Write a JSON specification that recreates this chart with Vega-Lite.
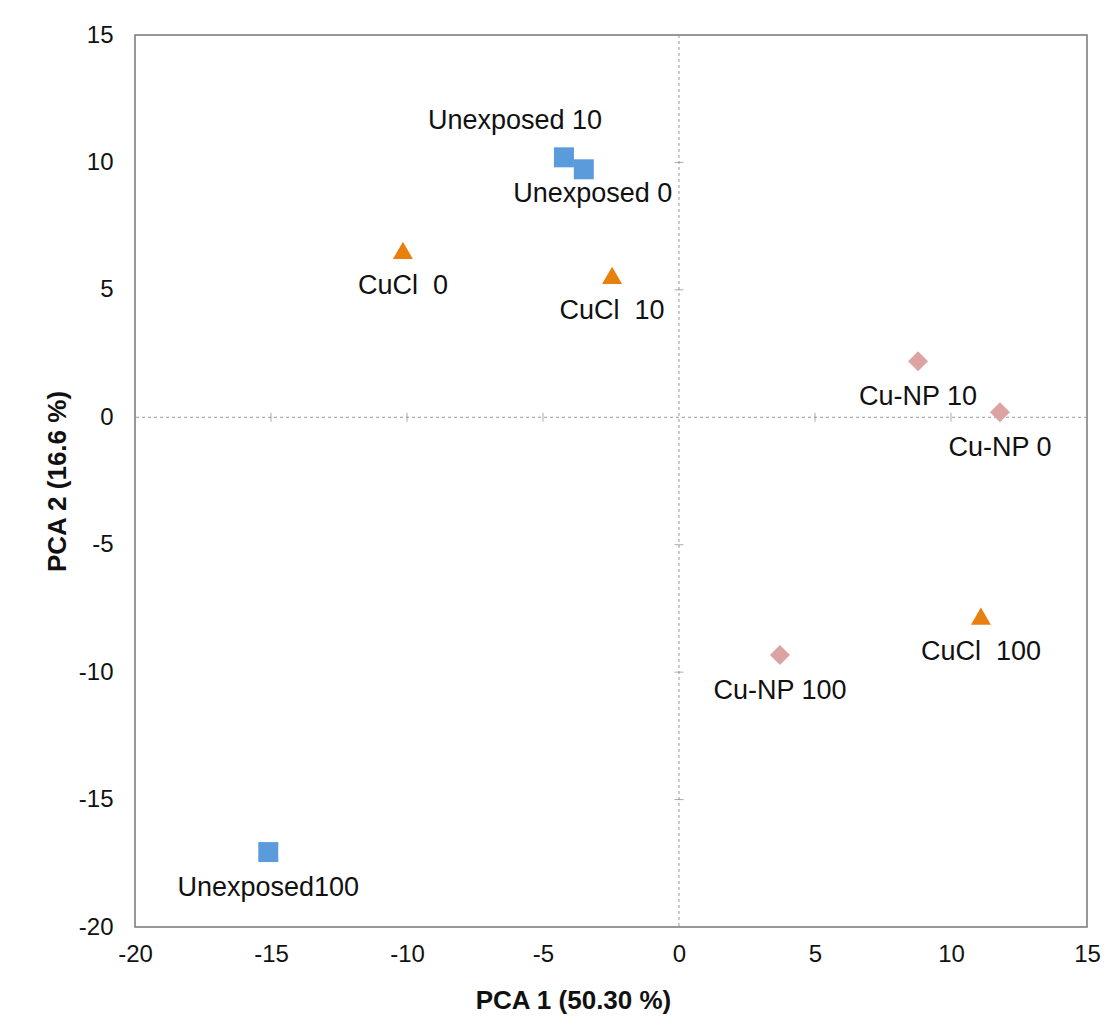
{
  "$schema": "https://vega.github.io/schema/vega-lite/v6.json",
  "width": 952,
  "height": 892,
  "autosize": "none",
  "padding": {"left": 135, "top": 35, "right": 23, "bottom": 104},
  "background": "white",
  "config": {
    "view": {"stroke": "#777777", "strokeWidth": 1.5},
    "font": "Liberation Sans"
  },
  "datasets": {
    "points": [
      {"name": "Unexposed 10", "group": "Unexposed", "x": -4.23, "y": 10.2},
      {"name": "Unexposed 0", "group": "Unexposed", "x": -3.5, "y": 9.73},
      {"name": "Unexposed100", "group": "Unexposed", "x": -15.1, "y": -17.06},
      {"name": "CuCl\u00a0 0", "group": "CuCl", "x": -10.15, "y": 6.55},
      {"name": "CuCl\u00a0 10", "group": "CuCl", "x": -2.46, "y": 5.57},
      {"name": "CuCl\u00a0 100", "group": "CuCl", "x": 11.1, "y": -7.8},
      {"name": "Cu-NP 10", "group": "Cu-NP", "x": 8.79, "y": 2.2},
      {"name": "Cu-NP 0", "group": "Cu-NP", "x": 11.8, "y": 0.2},
      {"name": "Cu-NP 100", "group": "Cu-NP", "x": 3.71, "y": -9.33}
    ],
    "xticks": [{"v": -15}, {"v": -10}, {"v": -5}, {"v": 5}, {"v": 10}],
    "yticks": [{"v": -15}, {"v": -10}, {"v": -5}, {"v": 5}, {"v": 10}],
    "zero": [{"v": 0}]
  },
  "layer": [
    {
      "data": {"name": "zero"},
      "mark": {"type": "rule", "color": "#9a9a9a", "strokeDash": [3, 3], "strokeWidth": 1},
      "encoding": {
        "x": {"field": "v", "type": "quantitative", "scale": {"domain": [-20, 15]}}
      }
    },
    {
      "data": {"name": "zero"},
      "mark": {"type": "rule", "color": "#9a9a9a", "strokeDash": [3, 3], "strokeWidth": 1},
      "encoding": {
        "y": {"field": "v", "type": "quantitative", "scale": {"domain": [-20, 15]}}
      }
    },
    {
      "data": {"name": "xticks"},
      "mark": {"type": "tick", "orient": "vertical", "color": "#8a8a8a", "size": 9, "thickness": 1},
      "encoding": {
        "x": {"field": "v", "type": "quantitative"},
        "y": {"datum": 0, "type": "quantitative"}
      }
    },
    {
      "data": {"name": "yticks"},
      "mark": {"type": "tick", "orient": "horizontal", "color": "#8a8a8a", "size": 9, "thickness": 1},
      "encoding": {
        "y": {"field": "v", "type": "quantitative"},
        "x": {"datum": 0, "type": "quantitative"}
      }
    },
    {
      "data": {"name": "points"},
      "mark": {"type": "point", "filled": true, "opacity": 1, "size": 400},
      "encoding": {
        "x": {
          "field": "x", "type": "quantitative",
          "scale": {"domain": [-20, 15], "nice": false, "zero": false},
          "axis": {
            "values": [-20, -15, -10, -5, 0, 5, 10, 15],
            "labelExpr": "datum.value + ''",
            "grid": false, "domain": false, "ticks": false,
            "labelFontSize": 24, "labelColor": "#111111", "labelPadding": 15,
            "labelFlush": false,
            "title": "PCA 1 (50.30 %)", "titleFontSize": 26, "titleFontWeight": "bold",
            "titleColor": "#111111", "titleX": 438, "titleY": 81, "titleBaseline": "alphabetic"
          }
        },
        "y": {
          "field": "y", "type": "quantitative",
          "scale": {"domain": [-20, 15], "nice": false, "zero": false},
          "axis": {
            "values": [-20, -15, -10, -5, 0, 5, 10, 15],
            "labelExpr": "datum.value + ''",
            "grid": false, "domain": false, "ticks": false,
            "labelFontSize": 24, "labelColor": "#111111", "labelPadding": 22,
            "labelFlush": false,
            "title": "PCA 2 (16.6 %)", "titleFontSize": 26, "titleFontWeight": "bold",
            "titleColor": "#111111", "titleX": -78, "titleY": 446, "titleBaseline": "middle"
          }
        },
        "color": {
          "field": "group", "type": "nominal", "legend": null,
          "scale": {"domain": ["Unexposed", "CuCl", "Cu-NP"], "range": ["#5b9bdc", "#e8800f", "#dca3a3"]}
        },
        "shape": {
          "field": "group", "type": "nominal", "legend": null,
          "scale": {"domain": ["Unexposed", "CuCl", "Cu-NP"], "range": ["square", "triangle-up", "diamond"]}
        }
      }
    },
    {
      "data": {"name": "points"},
      "transform": [{"filter": "datum.name !== 'Unexposed 10' && datum.name !== 'Unexposed 0'"}],
      "mark": {"type": "text", "fontSize": 27, "color": "#111111", "dy": 36, "baseline": "middle"},
      "encoding": {
        "x": {"field": "x", "type": "quantitative"},
        "y": {"field": "y", "type": "quantitative"},
        "text": {"field": "name"}
      }
    },
    {
      "data": {"name": "points"},
      "transform": [{"filter": "datum.name === 'Unexposed 10'"}],
      "mark": {"type": "text", "fontSize": 27, "color": "#111111", "dx": -49, "dy": -36, "baseline": "middle"},
      "encoding": {
        "x": {"field": "x", "type": "quantitative"},
        "y": {"field": "y", "type": "quantitative"},
        "text": {"field": "name"}
      }
    },
    {
      "data": {"name": "points"},
      "transform": [{"filter": "datum.name === 'Unexposed 0'"}],
      "mark": {"type": "text", "fontSize": 27, "color": "#111111", "dx": 9, "dy": 25, "baseline": "middle"},
      "encoding": {
        "x": {"field": "x", "type": "quantitative"},
        "y": {"field": "y", "type": "quantitative"},
        "text": {"field": "name"}
      }
    }
  ]
}
